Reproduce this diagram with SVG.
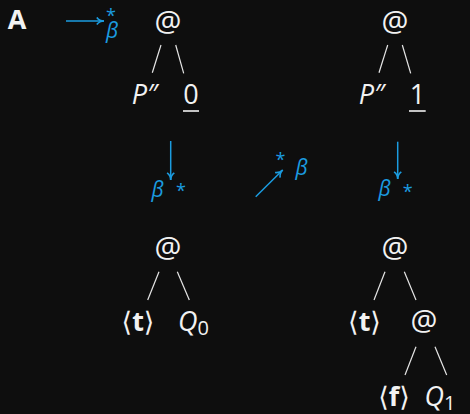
<svg xmlns="http://www.w3.org/2000/svg" width="470" height="414" viewBox="0 0 470 414">
  <style>
    .t { font-family: "Open Sans", "DejaVu Sans", sans-serif; font-size: 27px; fill: #f2f2f2; text-anchor: middle; }
    .at { font-size: 30px; }
    .i { font-style: italic; }
    .b { font-weight: bold; }
    .edge { stroke: #e6e6e6; stroke-width: 1.2; fill: none; }
    .ul { stroke: #f2f2f2; stroke-width: 1.6; }
    .red { stroke: #1b9ce0; stroke-width: 1.5; fill: none; marker-end: url(#ah); }
    .lab { font-family: "Open Sans", "DejaVu Sans", sans-serif; fill: #1b9ce0; text-anchor: middle; }
    .beta { font-size: 21px; font-style: italic; }
    .star { font-size: 18px; }
  </style>
  <defs>
    <marker id="ah" viewBox="0 0 10 10" refX="9" refY="5" markerWidth="9" markerHeight="9" markerUnits="userSpaceOnUse" orient="auto">
      <path d="M1,1 Q4,5 9,5 Q4,5 1,9" fill="none" stroke="#1b9ce0" stroke-width="1.8"/>
    </marker>
  </defs>
  <rect width="470" height="414" fill="#0e0e0e"/>

  <!-- panel label -->
  <g id="label-A">
    <text class="t b" x="17" y="29" font-size="28">A</text>
  </g>

  <!-- reduction arrows -->
  <g id="connectors">
    <line class="red" x1="66" y1="21" x2="104" y2="21"/>
    <line class="red" x1="170.7" y1="141" x2="170.7" y2="180"/>
    <line class="red" x1="255.7" y1="196.7" x2="282.7" y2="170"/>
    <line class="red" x1="397.7" y1="141.7" x2="397.7" y2="179"/>

    <!-- tree edges -->
    <line class="edge" x1="161" y1="45" x2="152.3" y2="72.7"/>
    <line class="edge" x1="175.7" y1="45" x2="183.7" y2="73.3"/>
    <line class="edge" x1="387.7" y1="45" x2="379" y2="72.7"/>
    <line class="edge" x1="402.3" y1="45" x2="410.7" y2="73.3"/>
    <line class="edge" x1="159" y1="271.7" x2="147.7" y2="300"/>
    <line class="edge" x1="177.3" y1="271.7" x2="189.3" y2="300"/>
    <line class="edge" x1="385" y1="271.7" x2="374" y2="300"/>
    <line class="edge" x1="404.3" y1="271.7" x2="416" y2="300"/>
    <line class="edge" x1="416" y1="346.7" x2="405" y2="375"/>
    <line class="edge" x1="435" y1="346.7" x2="446.7" y2="375"/>
  </g>

  <!-- arrow labels -->
  <g id="arrow-labels">
    <text class="lab star" x="111" y="22">*</text>
    <text class="lab beta" x="112" y="38">β</text>
    <text class="lab beta" x="157.5" y="197">β</text>
    <text class="lab star" x="181" y="197">*</text>
    <text class="lab star" x="280.5" y="166">*</text>
    <text class="lab beta" x="301.5" y="175">β</text>
    <text class="lab beta" x="384.5" y="196">β</text>
    <text class="lab star" x="407.7" y="198">*</text>
  </g>

  <!-- top-left tree -->
  <g id="app-top-left"><text class="t at" x="168" y="32">@</text></g>
  <g id="p-top-left"><text class="t i" x="144.5" y="104">P″</text></g>
  <g id="zero">
    <text class="t" x="191" y="104">0</text>
    <line class="ul" x1="183" y1="111" x2="199" y2="111"/>
  </g>

  <!-- top-right tree -->
  <g id="app-top-right"><text class="t at" x="395" y="32">@</text></g>
  <g id="p-top-right"><text class="t i" x="371.7" y="104">P″</text></g>
  <g id="one">
    <text class="t" x="417.5" y="104">1</text>
    <line class="ul" x1="409" y1="111" x2="425.7" y2="111"/>
  </g>

  <!-- bottom-left tree -->
  <g id="app-bottom-left"><text class="t at" x="168" y="258">@</text></g>
  <g id="true-left"><text class="t" x="138" y="331">⟨<tspan class="b">t</tspan>⟩</text></g>
  <g id="q0"><text class="t i" x="193.5" y="331">Q<tspan font-style="normal" font-size="20" dy="4">0</tspan></text></g>

  <!-- bottom-right tree -->
  <g id="app-bottom-right"><text class="t at" x="395" y="258">@</text></g>
  <g id="true-right"><text class="t" x="364.5" y="331">⟨<tspan class="b">t</tspan>⟩</text></g>
  <g id="app-inner"><text class="t at" x="424" y="331">@</text></g>
  <g id="false"><text class="t" x="394" y="406">⟨<tspan class="b">f</tspan>⟩</text></g>
  <g id="q1"><text class="t i" x="440" y="406" text-anchor="start">Q<tspan font-style="normal" font-size="20" dy="4">1</tspan></text></g>
</svg>
